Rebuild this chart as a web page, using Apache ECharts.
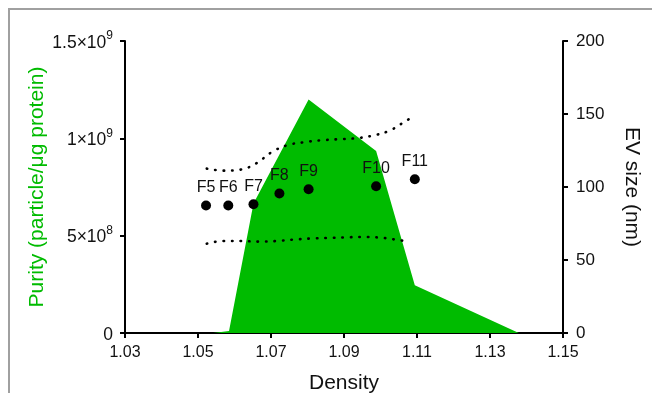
<!DOCTYPE html>
<html>
<head>
<meta charset="utf-8">
<script src="https://cdn.jsdelivr.net/npm/echarts@6/dist/echarts.min.js"></script>
<style>
html,body{margin:0;padding:0;background:#fff;}
#chart{width:652px;height:393px;}
</style>
</head>
<body>
<div id="chart"></div>
<script>
// ---- data ----
const densityTicks = [1.03, 1.05, 1.07, 1.09, 1.11, 1.13, 1.15];
const purityTicks = [0, 5e8, 1e9, 1.5e9];
const purityTickLabels = [['0', ''], ['5×10', '8'], ['1×10', '9'], ['1.5×10', '9']];
const sizeTicks = [0, 50, 100, 150, 200];

// Purity (green area)
const purityDensity = [1.0542, 1.0585, 1.0652, 1.0803, 1.0988, 1.1094, 1.1379];
const purityValues = [0, 1e7, 6.65e8, 1.2e9, 9.35e8, 2.45e8, 0];

// EV size per fraction (black dots)
const fractions = ['F5', 'F6', 'F7', 'F8', 'F9', 'F10', 'F11'];
const fractionDensity = [1.0522, 1.0583, 1.0652, 1.0723, 1.0803, 1.0988, 1.1094];
const evSize = [87.3, 87.3, 88.2, 95.5, 98.4, 100.5, 105.3];

// Dotted bands (EV size)
const upperDensity = [1.0524, 1.0570, 1.0617, 1.0661, 1.0700, 1.0744, 1.0789, 1.0837, 1.0885, 1.0933, 1.0979, 1.1025, 1.1068, 1.1089];
const upperSize = [112.6, 111.2, 111.9, 116.4, 123.6, 128.6, 130.6, 132.0, 132.7, 133.4, 135.2, 138.6, 145.0, 147.9];
const lowerDensity = [1.0524, 1.0570, 1.0617, 1.0666, 1.0714, 1.0762, 1.0809, 1.0858, 1.0904, 1.0953, 1.1001, 1.1048, 1.1073];
const lowerSize = [61.2, 63.0, 63.0, 62.6, 63.0, 64.0, 64.7, 65.1, 65.5, 65.8, 65.3, 63.7, 62.8];

const GREEN = '#00bb00';
const FONT = '"Liberation Sans", Arial, sans-serif';

const zip = (a, b) => a.map((v, i) => [v, b[i]]);

const chart = echarts.init(document.getElementById('chart'), null, {renderer: 'canvas'});

const axisCommon = {
  axisLine: {show: true, onZero: false, lineStyle: {color: '#000', width: 2}},
  axisTick: {show: true, length: 5, lineStyle: {color: '#000', width: 2}},
  splitLine: {show: false},
  axisLabel: {color: '#111', fontFamily: FONT, fontSize: 17},
  nameMoveOverlap: false,
  nameTextStyle: {fontFamily: FONT, fontSize: 21, color: '#111'}
};

const option = {
  backgroundColor: '#fff',
  animation: false,
  grid: {left: 125, right: 89, top: 41, bottom: 60, containLabel: false, outerBoundsMode: 'none'},
  graphic: [{
    type: 'rect',
    shape: {x: 9, y: 9, width: 700, height: 420},
    style: {fill: 'none', stroke: '#a0a0a0', lineWidth: 2},
    silent: true
  }],
  xAxis: Object.assign({}, axisCommon, {
    type: 'value',
    min: 1.03,
    max: 1.15,
    name: 'Density',
    nameLocation: 'middle',
    nameGap: 40,
    axisTick: Object.assign({}, axisCommon.axisTick, {customValues: densityTicks}),
    axisLabel: Object.assign({}, axisCommon.axisLabel, {
      customValues: densityTicks,
      fontSize: 16,
      margin: 12,
      formatter: v => v.toFixed(2)
    })
  }),
  yAxis: [
    Object.assign({}, axisCommon, {
      type: 'value',
      position: 'left',
      min: 0,
      max: 1.5e9,
      interval: 5e8,
      name: 'Purity (particle/μg protein)',
      nameLocation: 'middle',
      nameRotate: 90,
      nameGap: 77,
      nameTextStyle: {fontFamily: FONT, fontSize: 21, color: GREEN},
      axisLabel: Object.assign({}, axisCommon.axisLabel, {
        margin: 12,
        formatter: v => {
          const i = purityTicks.indexOf(v);
          if (i < 0) return '';
          const [m, e] = purityTickLabels[i];
          return e ? '{n|' + m + '}{s|' + e + '}' : '{n|' + m + '}';
        },
        rich: {
          n: {fontFamily: FONT, fontSize: 17.5, color: '#111', lineHeight: 22, verticalAlign: 'bottom'},
          s: {fontFamily: FONT, fontSize: 12, color: '#111', lineHeight: 12, verticalAlign: 'top'}
        }
      })
    }),
    Object.assign({}, axisCommon, {
      type: 'value',
      position: 'right',
      min: 0,
      max: 200,
      interval: 50,
      name: 'EV size (nm)',
      nameLocation: 'middle',
      nameRotate: -90,
      nameGap: 58,
      axisLabel: Object.assign({}, axisCommon.axisLabel, {margin: 13})
    })
  ],
  series: [
    {
      name: 'Purity',
      type: 'line',
      yAxisIndex: 0,
      data: zip(purityDensity, purityValues),
      symbol: 'none',
      lineStyle: {width: 0},
      areaStyle: {color: GREEN, opacity: 1},
      z: 1
    },
    {
      name: 'Upper',
      type: 'line',
      yAxisIndex: 1,
      data: zip(upperDensity, upperSize),
      smooth: 0.4,
      symbol: 'none',
      lineStyle: {color: '#000', width: 2.6, type: [0.5, 8], cap: 'round'},
      z: 3
    },
    {
      name: 'Lower',
      type: 'line',
      yAxisIndex: 1,
      data: zip(lowerDensity, lowerSize),
      smooth: 0.4,
      symbol: 'none',
      lineStyle: {color: '#000', width: 2.6, type: [0.5, 8], cap: 'round'},
      z: 3
    },
    {
      name: 'EV size',
      type: 'scatter',
      yAxisIndex: 1,
      data: fractionDensity.map((d, i) => ({value: [d, evSize[i]], name: fractions[i]})),
      symbol: 'circle',
      symbolSize: 10,
      itemStyle: {color: '#000', opacity: 1},
      label: {
        show: true,
        position: 'top',
        distance: 5,
        formatter: p => p.name,
        fontFamily: FONT,
        fontSize: 16,
        color: '#111'
      },
      z: 4
    }
  ]
};

chart.setOption(option);
</script>
</body>
</html>
